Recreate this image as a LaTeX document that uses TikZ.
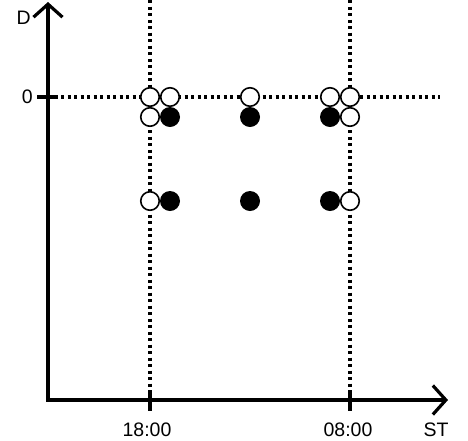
\documentclass[tikz,border=0pt]{standalone}
\usepackage{fontspec}
\setmainfont{Liberation Sans}
\usetikzlibrary{arrows.meta}
\begin{document}
\begin{tikzpicture}[x=1pt,y=-1pt,
  axis/.style={line width=3.2pt, -{Straight Barb[length=13pt,width=29pt,line width=3.2pt]}},
  dotline/.style={line width=3.3pt, dash pattern=on 3.3pt off 3.2pt},
  tickline/.style={line width=3.2pt},
  opendot/.style={circle, draw, line width=1.6pt, fill=white, minimum size=18.5pt, inner sep=0pt},
  filldot/.style={circle, fill=black, minimum size=20pt, inner sep=0pt},
  lbl/.style={font=\fontsize{19.5}{21}\selectfont, inner sep=0pt}]
\useasboundingbox (0,0) rectangle (468,440);
% dotted guide lines
\coordinate (v1t) at (150,0); \coordinate (v1b) at (150,400);
\coordinate (v2t) at (350,0); \coordinate (v2b) at (350,400);
\coordinate (h0l) at (48,97); \coordinate (h0r) at (440,97);
\draw[dotline] (v1t) -- (v1b);
\draw[dotline] (v2t) -- (v2b);
\draw[dotline] (h0l) -- (h0r);
% axes
\coordinate (o) at (48,400);
\coordinate (ytop) at (48,2);
\coordinate (xend) at (448,400);
\draw[axis] (48,401.6) -- (ytop);
\draw[axis] (46.4,400) -- (xend);
% ticks
\coordinate (t1a) at (150,390); \coordinate (t1b) at (150,411);
\coordinate (t2a) at (350,390); \coordinate (t2b) at (350,411);
\coordinate (t0a) at (37,97); \coordinate (t0b) at (56,97);
\draw[tickline] (t1a) -- (t1b);
\draw[tickline] (t2a) -- (t2b);
\draw[tickline] (t0a) -- (t0b);
% labels
\node[lbl, anchor=east] (lD) at (31,18) {D};
\node[lbl, anchor=east] (l0) at (33,97) {0};
\node[lbl] (l18) at (147,430) {18:00};
\node[lbl] (l08) at (348,430) {08:00};
\node[lbl] (lST) at (436,430) {ST};
% row 1
\node[opendot] (a1) at (150,97) {};
\node[opendot] (a2) at (170,97) {};
\node[opendot] (a3) at (250,97) {};
\node[opendot] (a4) at (330,97) {};
\node[opendot] (a5) at (350,97) {};
% row 2
\node[opendot] (b1) at (150,117) {};
\node[filldot] (b2) at (170,117) {};
\node[filldot] (b3) at (250,117) {};
\node[filldot] (b4) at (330,117) {};
\node[opendot] (b5) at (350,117) {};
% row 3
\node[opendot] (c1) at (150,201) {};
\node[filldot] (c2) at (170,201) {};
\node[filldot] (c3) at (250,201) {};
\node[filldot] (c4) at (330,201) {};
\node[opendot] (c5) at (350,201) {};
\end{tikzpicture}
\end{document}
